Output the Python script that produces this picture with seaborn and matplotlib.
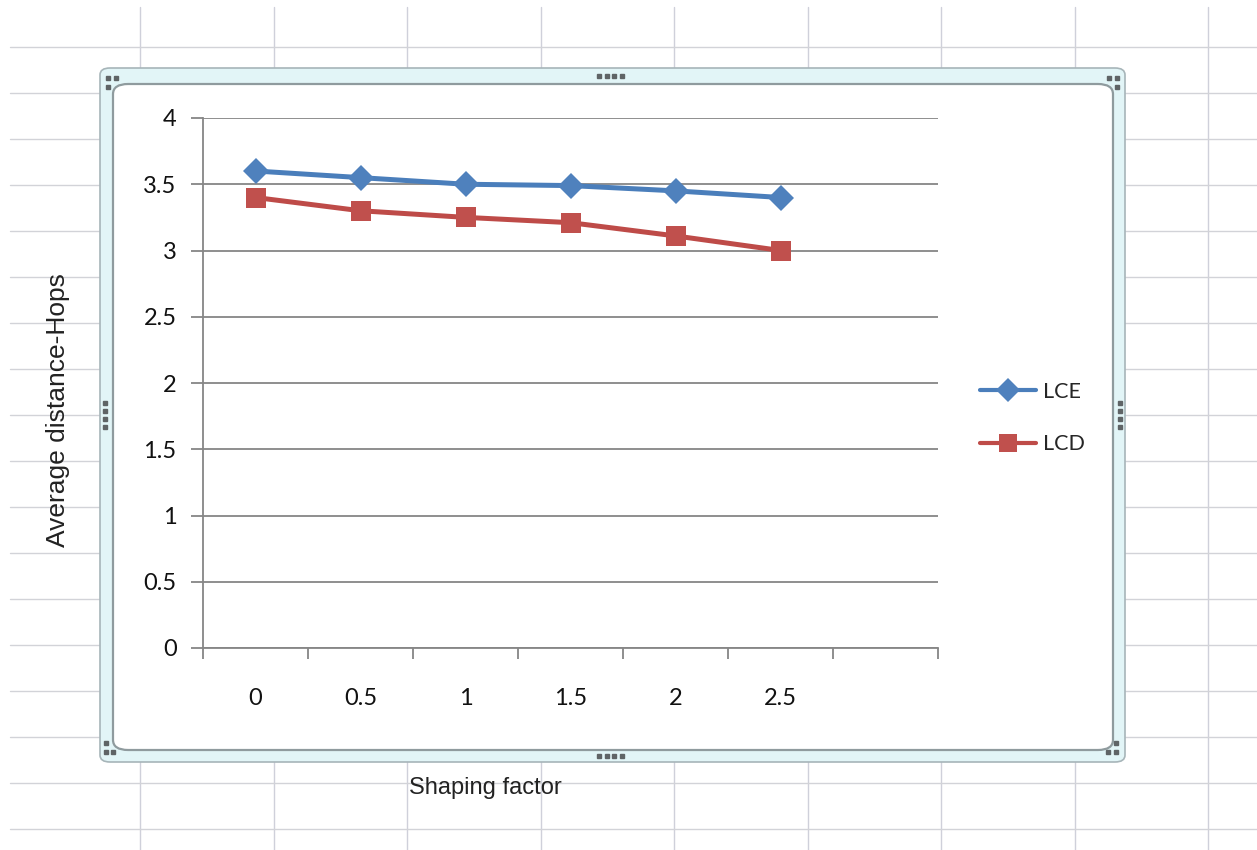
import numpy as np
import pandas as pd
import matplotlib
matplotlib.use("Agg")
import matplotlib.pyplot as plt
from matplotlib.lines import Line2D
from matplotlib.patches import FancyBboxPatch
import seaborn as sns

# ---- data -------------------------------------------------------------
categories = ["0", "0.5", "1", "1.5", "2", "2.5", ""]
lce_values = [3.60, 3.55, 3.50, 3.49, 3.45, 3.40]
lcd_values = [3.40, 3.30, 3.25, 3.21, 3.11, 3.00]
series_names = ["LCE", "LCD"]
y_ticks = [0, 0.5, 1, 1.5, 2, 2.5, 3, 3.5, 4]

W, H = 1257, 850

sns.set_theme(style="white")
plt.rcParams["font.family"] = ["Lato", "DejaVu Sans"]

fig = plt.figure(figsize=(W / 100, H / 100), dpi=100)
fig.patch.set_facecolor("white")


def fx(x):
    return x / W


def fy(y):
    return 1 - y / H


# ---- worksheet cell grid behind the chart -----------------------------
for k in range(9):
    x = 140 + 133.5 * k
    fig.add_artist(Line2D([fx(x), fx(x)], [fy(7), fy(850)], color="#cfd0da",
                          lw=1.0, transform=fig.transFigure, zorder=0))
for k in range(18):
    y = 47 + 46 * k
    fig.add_artist(Line2D([fx(10), fx(1257)], [fy(y), fy(y)], color="#d2d3d8",
                          lw=1.0, transform=fig.transFigure, zorder=0))

# ---- chart object frame (selection border + chart area) ----------------
outer = FancyBboxPatch((fx(100), fy(762)), fx(1125 - 100), (762 - 68) / H,
                       boxstyle="round,pad=0,rounding_size=0.008",
                       transform=fig.transFigure, facecolor="#e2f5f7",
                       edgecolor="#a7b5b9", lw=1.2, zorder=1)
fig.add_artist(outer)
inner = FancyBboxPatch((fx(113), fy(750)), fx(1113 - 113), (750 - 84) / H,
                       boxstyle="round,pad=0,rounding_size=0.012",
                       transform=fig.transFigure, facecolor="white",
                       edgecolor="#8f9b9e", lw=1.6, zorder=2)
fig.add_artist(inner)

# resize handles
handle_pts = [
    (599, 76), (607, 76), (614, 76), (622, 76),
    (599, 756), (607, 756), (614, 756), (622, 756),
    (105, 403), (105, 411), (105, 419), (105, 427),
    (1120, 403), (1120, 411), (1120, 419), (1120, 427),
    (108, 78), (116, 78), (108, 87),
    (1109, 78), (1117, 78), (1117, 87),
    (106, 743), (106, 752), (113, 752),
    (1116, 743), (1108, 752), (1116, 752),
]
for (hx, hy) in handle_pts:
    fig.add_artist(Line2D([fx(hx)], [fy(hy)], marker="s", markersize=2.6,
                          color="#5f6466", lw=0, transform=fig.transFigure,
                          zorder=3))

# ---- plot area ----------------------------------------------------------
ax = fig.add_axes([fx(203), fy(648), fx(938 - 203), (648 - 118) / H])
ax.set_zorder(4)
ax.patch.set_alpha(0)

n = len(lce_values)
df = pd.DataFrame({
    "pos": list(range(n)) * 2,
    "value": lce_values + lcd_values,
    "series": [series_names[0]] * n + [series_names[1]] * n,
})

palette = {"LCE": "#4a7ebb", "LCD": "#be4b48"}
sns.lineplot(data=df, x="pos", y="value", hue="series", style="series",
             markers={"LCE": "D", "LCD": "s"}, dashes=False, palette=palette,
             linewidth=3.6, markersize=13, markeredgewidth=0, ax=ax,
             legend=False, zorder=5)
ax.lines[0].set_markerfacecolor("#4f81bd")
ax.lines[1].set_markerfacecolor("#c0504d")
ax.lines[1].set_markersize(14.5)

ax.set_xlim(-0.5, len(categories) - 0.5)
ax.set_ylim(0, 4)

grid_c = "#868686"
ax.set_yticks(y_ticks)
ax.set_yticklabels([f"{t:g}" for t in y_ticks])
ax.yaxis.grid(True, color=grid_c, lw=1.3)
ax.set_axisbelow(True)

ax.set_xticks(np.arange(len(categories) + 1) - 0.5)
ax.set_xticklabels([])
ax.set_xticks(np.arange(len(categories)), minor=True)
ax.set_xticklabels(categories, minor=True)

for side in ["top", "right"]:
    ax.spines[side].set_visible(False)
for side in ["left", "bottom"]:
    ax.spines[side].set_color(grid_c)
    ax.spines[side].set_linewidth(1.3)

ax.tick_params(axis="y", which="major", left=True, direction="out",
               length=9, width=1.3, color=grid_c, labelsize=17, pad=10,
               labelcolor="#111111")
ax.tick_params(axis="x", which="major", bottom=True, direction="out",
               length=8, width=1.3, color=grid_c)
ax.tick_params(axis="x", which="minor", bottom=True, length=0,
               labelsize=17, pad=29, labelcolor="#111111")

ax.set_xlabel("Shaping factor", fontsize=17, family="Liberation Sans",
              color="#222222", va="center")
ax.xaxis.set_label_coords((485 - 203) / 735, (648 - 788) / 530)
ax.set_ylabel("Average distance-Hops", fontsize=19,
              family="Liberation Sans", color="#222222", va="center")
ax.yaxis.set_label_coords((58 - 203) / 735, (648 - 410) / 530)

# ---- legend -------------------------------------------------------------
handles = [
    Line2D([], [], color="#4a7ebb", lw=3.0, marker="D", markersize=12,
           markerfacecolor="#4f81bd", markeredgewidth=0),
    Line2D([], [], color="#be4b48", lw=3.0, marker="s", markersize=13,
           markerfacecolor="#c0504d", markeredgewidth=0),
]
leg = fig.legend(handles, series_names, loc="center left",
                 bbox_to_anchor=(fx(961), fy(418)), frameon=False,
                 fontsize=15.5, handlelength=2.6, handletextpad=0.3,
                 labelspacing=1.5)
leg.set_zorder(6)

fig.savefig("out.png", dpi=100)
